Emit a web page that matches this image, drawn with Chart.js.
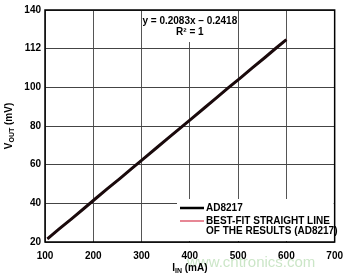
<!DOCTYPE html>
<html>
<head>
<meta charset="utf-8">
<script src="https://cdn.jsdelivr.net/npm/chart.js@4"></script>
<style>
  body { margin: 0; background: #fff; }
  #wrap { width: 351px; height: 279px; }
</style>
</head>
<body>
<div id="wrap"><canvas id="chart"></canvas></div>
<script>
// measured output (AD8217) vs input current
const iinValues = [105, 130, 155, 180, 205, 230, 255, 280, 305, 330, 355, 380, 405, 430, 455, 480, 505, 530, 555, 580, 600];
const voutValues = [21.6, 26.9, 32.0, 37.2, 42.5, 47.7, 52.8, 58.1, 63.3, 68.5, 73.7, 78.9, 84.1, 89.3, 94.5, 99.8, 104.9, 110.2, 115.3, 120.6, 124.7];

// best-fit straight line end points
const fitX = [105, 600];
const fitY = [21.6, 124.7];

const xTicks = [100, 200, 300, 400, 500, 600, 700];
const yTicks = [20, 40, 60, 80, 100, 120, 140];
const yTickLabels = ['20', '40', '60', '80', '100', '112', '140'];

const seriesLabels = ['AD8217', 'BEST-FIT STRAIGHT LINE\nOF THE RESULTS (AD8217)'];
const fitText = ['y = 0.2083x \u2013 0.2418', 'R\u00b2 = 1'];

const FONT = '"Liberation Sans", Arial, sans-serif';

function toPoints(xs, ys) {
    return xs.map((x, i) => ({ x: x, y: ys[i] }));
}

// draws text with a subscript part
function drawSub(ctx, main, sub, rest, x, y) {
    ctx.font = 'bold 10px ' + FONT;
    const w1 = ctx.measureText(main).width;
    const w3 = ctx.measureText(rest).width;
    ctx.font = 'bold 7px ' + FONT;
    const w2 = ctx.measureText(sub).width;
    let start = x - (w1 + w2 + w3) / 2;
    ctx.textAlign = 'left';
    ctx.textBaseline = 'middle';
    ctx.font = 'bold 10px ' + FONT;
    ctx.fillText(main, start, y);
    ctx.font = 'bold 7px ' + FONT;
    ctx.fillText(sub, start + w1, y + 3);
    ctx.font = 'bold 10px ' + FONT;
    ctx.fillText(rest, start + w1 + w2, y);
}

const extras = {
    id: 'extras',
    beforeDraw(chart) {
        const ctx = chart.ctx;
        ctx.save();
        ctx.fillStyle = '#fff';
        ctx.fillRect(0, 0, chart.width, chart.height);
        ctx.restore();
    },
    afterDatasetsDraw(chart) {
        const ctx = chart.ctx;
        const a = chart.chartArea;
        const xs = chart.scales.x;
        ctx.save();

        // fit equation box
        const bx1 = xs.getPixelForValue(300) + 1, bx2 = xs.getPixelForValue(500) - 1;
        ctx.fillStyle = '#fff';
        ctx.fillRect(bx1, a.top + 1, bx2 - bx1, 31);
        ctx.fillStyle = '#000';
        ctx.font = 'bold 10px ' + FONT;
        ctx.textAlign = 'center';
        ctx.textBaseline = 'middle';
        const cx = (bx1 + bx2) / 2;
        ctx.fillText(fitText[0], cx, a.top + 11);
        ctx.fillText(fitText[1], cx, a.top + 22);

        // legend box
        const lx = 177, ly = 199;
        ctx.fillStyle = '#fff';
        ctx.fillRect(lx, ly, a.right - lx - 1, a.bottom - ly - 1);
        chart.data.datasets.forEach((ds, i) => {
            const yy = i === 0 ? 208 : 221;
            ctx.strokeStyle = i === 0 ? '#000' : '#d8384f';
            ctx.lineWidth = i === 0 ? 2.5 : 1.2;
            ctx.beginPath();
            ctx.moveTo(180, yy);
            ctx.lineTo(204, yy);
            ctx.stroke();
            ctx.fillStyle = '#000';
            ctx.font = 'bold 10px ' + FONT;
            ctx.textAlign = 'left';
            ctx.textBaseline = 'middle';
            ds.label.split('\n').forEach((line, j) => {
                ctx.fillText(line, 206, yy + j * 10.5);
            });
        });

        // plot frame
        ctx.strokeStyle = '#000';
        ctx.lineWidth = 1.5;
        ctx.strokeRect(a.left, a.top, a.right - a.left, a.bottom - a.top);
        ctx.restore();
    },
    afterDraw(chart) {
        const ctx = chart.ctx;
        const a = chart.chartArea;
        ctx.save();
        // watermark
        ctx.fillStyle = 'rgba(140, 200, 130, 0.45)';
        ctx.font = '15px ' + FONT;
        ctx.textAlign = 'left';
        ctx.textBaseline = 'middle';
        ctx.fillText('www.cntronics.com', 187, 263);

        ctx.fillStyle = '#000';
        drawSub(ctx, 'I', 'IN', ' (mA)', (a.left + a.right) / 2, 268);
        ctx.translate(9, (a.top + a.bottom) / 2);
        ctx.rotate(-Math.PI / 2);
        drawSub(ctx, 'V', 'OUT', ' (mV)', 0, 0);
        ctx.restore();
    }
};

new Chart(document.getElementById('chart'), {
    type: 'line',
    data: {
        datasets: [{
            label: seriesLabels[0],
            data: toPoints(iinValues, voutValues),
            borderColor: '#1a0a0c',
            borderWidth: 3,
            pointRadius: 0,
            tension: 0
        }, {
            label: seriesLabels[1],
            data: toPoints(fitX, fitY),
            borderColor: '#a3283c',
            borderWidth: 1.5,
            pointRadius: 0,
            tension: 0
        }]
    },
    options: {
        responsive: true,
        maintainAspectRatio: false,
        animation: false,
        layout: { padding: { top: 6, right: 9, left: 0, bottom: 0 } },
        plugins: {
            legend: { display: false },
            tooltip: { enabled: false }
        },
        scales: {
            x: {
                type: 'linear',
                min: 100,
                max: 700,
                afterBuildTicks: s => { s.ticks = xTicks.map(v => ({ value: v })); },
                afterFit: s => { s.height = 37; },
                grid: { color: '#555', lineWidth: 1, drawTicks: false },
                border: { display: false },
                ticks: {
                    padding: 8,
                    color: '#000',
                    font: { family: FONT, size: 10, weight: 'bold' },
                    maxRotation: 0
                }
            },
            y: {
                type: 'linear',
                min: 20,
                max: 140,
                afterBuildTicks: s => { s.ticks = yTicks.map(v => ({ value: v })); },
                afterFit: s => { s.width = 45; },
                grid: { color: '#444', lineWidth: 1, drawTicks: false },
                border: { display: false },
                ticks: {
                    padding: 4,
                    color: '#000',
                    font: { family: FONT, size: 10, weight: 'bold' },
                    callback: v => yTickLabels[yTicks.indexOf(v)]
                }
            }
        }
    },
    plugins: [extras]
});
</script>
</body>
</html>
